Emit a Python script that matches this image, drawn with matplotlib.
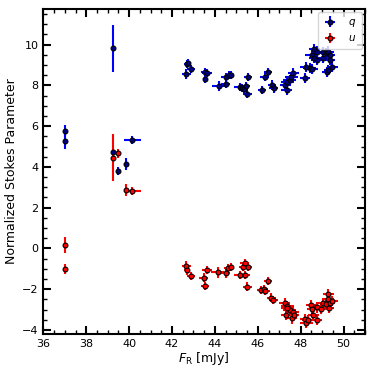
import matplotlib
matplotlib.use("Agg")
import matplotlib.pyplot as plt
from matplotlib.ticker import MultipleLocator

# q data
q_x = [37.03, 37.03, 39.25, 39.25, 39.48, 39.87, 40.15,
       42.67, 42.70, 42.74, 42.89, 43.54, 43.63, 43.54, 44.17, 44.50, 44.50, 44.65, 44.76,
       45.15, 45.27, 45.34, 45.43, 45.51, 45.55, 46.20, 46.32, 46.48, 46.66, 46.74,
       47.34, 47.29, 47.37, 47.49, 47.57, 47.65, 48.20, 48.27, 48.43, 48.54,
       48.63, 48.74, 48.51, 48.63, 48.74, 49.05, 49.16, 49.29, 49.05, 49.37, 49.37,
       49.21, 49.29, 49.48]
q_y = [5.77, 5.28, 9.82, 4.71, 3.79, 4.15, 5.31,
       8.54, 9.05, 9.08, 8.80, 8.67, 8.59, 8.30, 7.98, 8.05, 8.40, 8.49, 8.49,
       7.93, 7.89, 7.81, 7.97, 7.57, 8.40, 7.77, 8.43, 8.67, 8.02, 7.85,
       7.77, 8.02, 8.18, 8.26, 8.40, 8.59, 8.38, 8.92, 8.84, 8.80,
       9.77, 9.66, 9.49, 9.33, 9.25, 9.63, 9.58, 9.66, 9.33, 9.49, 9.25,
       8.67, 8.75, 8.92]
q_xerr = [0.05, 0.05, 0.05, 0.05, 0.1, 0.1, 0.4,
          0.2, 0.15, 0.15, 0.2, 0.2, 0.25, 0.1, 0.3, 0.2, 0.2, 0.2, 0.15,
          0.25, 0.2, 0.2, 0.2, 0.2, 0.2, 0.2, 0.2, 0.2, 0.2, 0.2,
          0.25, 0.25, 0.3, 0.3, 0.3, 0.25, 0.25, 0.3, 0.3, 0.25,
          0.25, 0.25, 0.3, 0.25, 0.25, 0.25, 0.25, 0.25, 0.25, 0.25, 0.25,
          0.2, 0.2, 0.25]
q_yerr = [0.3, 0.4, 1.15, 0.2, 0.2, 0.3, 0.2,
          0.25, 0.2, 0.2, 0.2, 0.2, 0.2, 0.2, 0.25, 0.2, 0.2, 0.2, 0.2,
          0.2, 0.2, 0.2, 0.2, 0.2, 0.2, 0.2, 0.2, 0.2, 0.25, 0.2,
          0.25, 0.25, 0.25, 0.25, 0.25, 0.25, 0.25, 0.25, 0.25, 0.25,
          0.25, 0.25, 0.25, 0.25, 0.25, 0.25, 0.25, 0.25, 0.25, 0.25, 0.25,
          0.25, 0.25, 0.25]

# u data
u_x = [37.03, 37.03, 39.25, 39.48, 39.87, 40.15,
       42.67, 42.70, 42.89, 43.48, 43.54, 43.63, 44.14, 44.50, 44.60, 44.76,
       45.15, 45.30, 45.39, 45.54, 45.42, 45.51, 46.17, 46.29, 46.35, 46.48, 46.63, 46.73,
       47.26, 47.37, 47.49, 47.62, 47.31, 47.60, 47.34, 47.69,
       48.20, 48.27, 48.35, 48.48, 48.54, 48.59, 48.74, 48.74, 48.97,
       49.05, 49.16, 49.29, 49.29, 49.37, 49.32, 49.48]
u_y = [0.16, -1.03, 4.46, 4.66, 2.87, 2.80,
       -0.85, -1.05, -1.35, -1.43, -1.84, -1.05, -1.18, -1.23, -0.98, -0.90,
       -1.29, -0.93, -0.74, -0.93, -1.29, -1.87, -2.03, -2.00, -2.11, -1.59, -2.41, -2.54,
       -2.66, -2.85, -3.02, -3.11, -3.28, -3.44, -2.94, -3.28,
       -3.48, -3.64, -3.53, -2.77, -2.98, -3.26, -2.90, -3.53, -2.98,
       -2.66, -2.74, -2.25, -2.49, -2.66, -2.94, -2.57]
u_xerr = [0.05, 0.05, 0.05, 0.1, 0.1, 0.4,
          0.2, 0.15, 0.2, 0.2, 0.2, 0.25, 0.3, 0.2, 0.2, 0.15,
          0.25, 0.2, 0.2, 0.2, 0.2, 0.2, 0.2, 0.2, 0.2, 0.2, 0.2, 0.2,
          0.25, 0.3, 0.3, 0.3, 0.25, 0.25, 0.25, 0.25,
          0.25, 0.3, 0.3, 0.25, 0.25, 0.25, 0.25, 0.25, 0.25,
          0.25, 0.25, 0.25, 0.25, 0.25, 0.25, 0.25]
u_yerr = [0.4, 0.25, 1.15, 0.2, 0.3, 0.2,
          0.25, 0.25, 0.2, 0.2, 0.2, 0.2, 0.25, 0.2, 0.2, 0.2,
          0.2, 0.2, 0.2, 0.2, 0.2, 0.2, 0.2, 0.2, 0.2, 0.2, 0.2, 0.2,
          0.25, 0.25, 0.25, 0.25, 0.25, 0.25, 0.25, 0.25,
          0.25, 0.25, 0.25, 0.25, 0.25, 0.25, 0.25, 0.25, 0.25,
          0.25, 0.25, 0.25, 0.25, 0.25, 0.25, 0.25]

fig = plt.figure(figsize=(3.74, 3.74), dpi=100)
ax = fig.add_axes([0.116, 0.107, 0.86, 0.869])

ax.errorbar(q_x, q_y, xerr=q_xerr, yerr=q_yerr, fmt='o', ms=3.5, mfc='navy', mec='black',
            mew=0.8, ecolor='blue', elinewidth=1.5, capsize=0, label='$q$', zorder=3)
ax.errorbar(u_x, u_y, xerr=u_xerr, yerr=u_yerr, fmt='o', ms=3.5, mfc='red', mec='black',
            mew=0.8, ecolor='red', elinewidth=1.5, capsize=0, label='$u$', zorder=3)

ax.set_xlim(36, 51)
ax.set_ylim(-4.2, 11.75)
ax.xaxis.set_major_locator(MultipleLocator(2))
ax.xaxis.set_minor_locator(MultipleLocator(0.5))
ax.yaxis.set_major_locator(MultipleLocator(2))
ax.yaxis.set_minor_locator(MultipleLocator(0.5))
ax.tick_params(which='both', direction='in', top=True, right=True, labelsize=8)
ax.tick_params(which='major', length=6, width=1.5)
ax.tick_params(which='minor', length=3, width=1.0)
for s in ax.spines.values():
    s.set_linewidth(1.5)

ax.set_xlabel(r'$F_{\rm R}$ [mJy]', fontsize=9, labelpad=1)
ax.set_ylabel('Normalized Stokes Parameter', fontsize=9, labelpad=3)
ax.legend(loc='upper right', fontsize=7.5, handlelength=1.2, borderpad=0.5,
          labelspacing=0.4, handletextpad=1.2, borderaxespad=0.3)

fig.savefig('out.png', dpi=100)
